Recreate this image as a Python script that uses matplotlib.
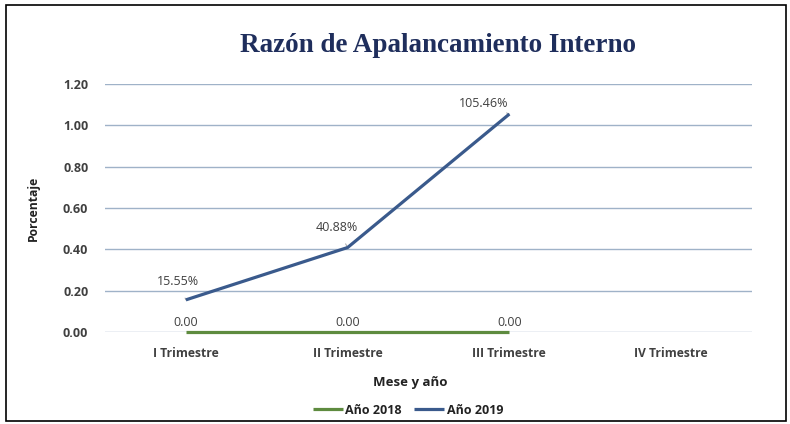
import matplotlib
matplotlib.use("Agg")
import matplotlib.pyplot as plt
from matplotlib.patches import Rectangle

# data
categories = ["I Trimestre", "II Trimestre", "III Trimestre", "IV Trimestre"]
values_2018 = [0.0, 0.0, 0.0]
values_2019 = [0.1555, 0.4088, 1.0546]
labels_2018 = ["0.00", "0.00", "0.00"]
labels_2019 = ["15.55%", "40.88%", "105.46%"]
yticks = [0.0, 0.2, 0.4, 0.6, 0.8, 1.0, 1.2]

green = "#5E8B3F"
blue = "#3A5A8C"
grid_col = "#9FB2C8"
text_col = "#404040"
font = "Open Sans"

fig = plt.figure(figsize=(7.9, 4.24), dpi=100)
W, H = 790, 424
ax = fig.add_axes([105 / W, 1 - 332 / H, (752 - 105) / W, (332 - 84) / H])

x = list(range(len(categories)))
ax.plot(x[:3], values_2018, color=green, lw=2.3, label="Año 2018",
        solid_capstyle="butt", clip_on=False, zorder=3)
ax.plot(x[:3], values_2019, color=blue, lw=2.3, label="Año 2019",
        solid_capstyle="butt", clip_on=False, zorder=4)

ax.set_xlim(-0.5, 3.5)
ax.set_ylim(0, 1.2)
ax.set_yticks(yticks)
ax.set_yticklabels([f"{v:.2f}" for v in yticks], fontsize=9, fontweight="bold",
                   color=text_col, family=font)
ax.set_xticks(x)
ax.set_xticklabels(categories, fontsize=8.7, fontweight="bold", color=text_col, family=font)
ax.tick_params(axis="both", length=0)
ax.tick_params(axis="y", pad=12)
ax.tick_params(axis="x", pad=11)
ax.grid(axis="y", color=grid_col, lw=1)
ax.set_axisbelow(True)
for s in ax.spines.values():
    s.set_visible(False)

# data labels
for xi, lab in zip(x, labels_2018):
    ax.annotate(lab, (xi, 0), xytext=(0, 7), textcoords="offset points",
                ha="center", va="center", fontsize=9, color=text_col, family=font)
offsets = [(-6, 13.5), (-8, 14.6), (-18.7, 7.5)]
for xi, v, lab, off in zip(x, values_2019, labels_2019, offsets):
    ax.annotate(lab, (xi, v), xytext=off, textcoords="offset points",
                ha="center", va="center", fontsize=9, color=text_col, family=font,
                arrowprops=dict(arrowstyle="-", color="#A6A6A6", lw=0.7,
                                shrinkA=6, shrinkB=0))

ax.set_ylabel("Porcentaje", fontsize=8.7, fontweight="bold", color="#222222", family=font)
ax.yaxis.set_label_coords((40 - 105) / 647, 0.5)
ax.set_xlabel("Mese y año", fontsize=9.5, fontweight="bold", color="#222222", family=font)
ax.xaxis.set_label_coords((410 - 105) / 647, -(376 - 332) / 248)

fig.text(438 / W, 1 - 46 / H, "Razón de Apalancamiento Interno", ha="center", va="center",
         fontsize=19.5, fontweight="bold", color="#1F2E5C", family="Liberation Serif")

leg = fig.legend(loc="center", bbox_to_anchor=(408 / W, 1 - 410 / H), ncol=2, frameon=False,
                 prop={"family": font, "weight": "bold", "size": 9}, handlelength=2.4,
                 handletextpad=0.2, columnspacing=1.0)
for t in leg.get_texts():
    t.set_color("#222222")

fig.patches.append(Rectangle((6 / W, 3 / H), 780 / W, 416 / H, transform=fig.transFigure,
                             fill=False, edgecolor="black", lw=1.2))

fig.savefig("out.png", dpi=100)
